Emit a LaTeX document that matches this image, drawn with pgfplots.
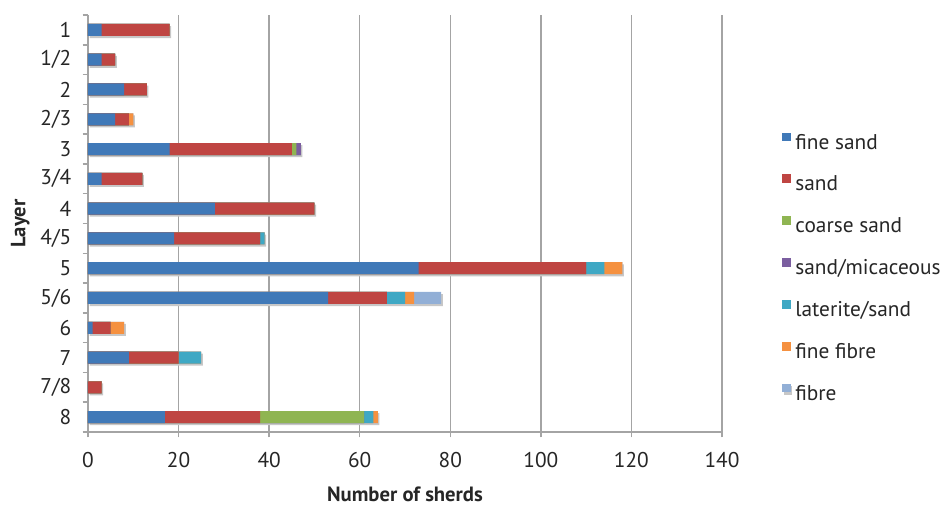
\documentclass[border=0pt]{standalone}
\usepackage{pgfplots}
\usepackage{pgfplotstable}
\pgfplotsset{compat=1.18}
\usepackage{fontspec}
\setmainfont{PT Sans}
\definecolor{cfine}{HTML}{4079B8}
\definecolor{csand}{HTML}{BF4542}
\definecolor{ccoarse}{HTML}{8FB552}
\definecolor{cmica}{HTML}{7B5EA0}
\definecolor{clat}{HTML}{3FA8C4}
\definecolor{cffib}{HTML}{F59140}
\definecolor{cfibre}{HTML}{92AFD6}
\definecolor{gridgray}{HTML}{A4A4A4}
\newcommand{\legsq}[1]{\fill[#1] (0pt,1pt) rectangle (6.5pt,7.5pt);}
% y: 0 = layer 8 (bottom) ... 13 = layer 1 (top); segment values per sherd type
\pgfplotstableread{
y fine sand coarse mica lat ffib fibre
0  17 21 23 0 2 1 0
1  0  3  0  0 0 0 0
2  9  11 0  0 5 0 0
3  1  4  0  0 0 3 0
4  53 13 0  0 4 2 6
5  73 37 0  0 4 4 0
6  19 19 0  0 1 0 0
7  28 22 0  0 0 0 0
8  3  9  0  0 0 0 0
9  18 27 1  1 0 0 0
10 6  3  0  0 0 1 0
11 8  5  0  0 0 0 0
12 3  3  0  0 0 0 0
13 3  15 0  0 0 0 0
}\datatable
\begin{document}
\begin{tikzpicture}
\begin{axis}[
  at={(0pt,0pt)}, anchor=south west,
  scale only axis, width=475.5pt, height=312.75pt,
  xbar, bar width=9pt, bar shift=0pt,
  xmin=0, xmax=140, xtick={0,20,...,140},
  ymin=-0.5, ymax=13.5,
  ytick={0,...,13},
  yticklabels={8,7/8,7,6,5/6,5,4/5,4,3/4,3,2/3,2,1/2,1},
  minor ytick={-0.5,0.5,...,13.5},
  axis x line*=bottom, axis y line*=left,
  axis line style={gridgray, line width=1.1pt, -},
  xmajorgrids, grid style={gridgray, line width=1.1pt},
  tick align=outside,
  major tick length=4pt,
  minor tick length=4pt,
  x tick style={gridgray, line width=1.1pt},
  y tick style={gridgray, line width=1.1pt},
  major y tick style={draw=none},
  tick label style={font=\fontsize{16}{19}\selectfont, text=black!85},
  /pgf/number format/assume math mode=true,
  xticklabel style={yshift=-8pt},
  yticklabel style={xshift=-5pt},
  xlabel={\textbf{Number of sherds}},
  ylabel={\textbf{Layer}},
  label style={font=\fontsize{15.5}{18}\selectfont, text=black!85},
  xlabel style={at={(axis description cs:0.5,0)}, anchor=center, yshift=-47pt},
  ylabel style={at={(axis description cs:-0.107,0.5)}, anchor=center},
  legend style={at={(rel axis cs:1.088,0.728)}, anchor=north west, draw=none, fill=none,
    font=\fontsize{16}{19}\selectfont, text=black!85, row sep=14.6pt, column sep=2.5pt,
    nodes={inner xsep=1pt}},
  legend cell align=left,
  reverse legend,
  every axis plot/.append style={draw=none},
]
% drawn back to front as cumulative lengths, so the stacked segments meet without seams
\addplot[fill=cfibre, preaction={fill=black!22, transform canvas={xshift=1.2pt, yshift=-1.6pt}},
  legend image code/.code={\legsq{cfibre}}]
  table[y=y, x expr=\thisrow{fine}+\thisrow{sand}+\thisrow{coarse}+\thisrow{mica}+\thisrow{lat}+\thisrow{ffib}+\thisrow{fibre}] {\datatable};
\addplot[fill=cffib, legend image code/.code={\legsq{cffib}}]
  table[y=y, x expr=\thisrow{fine}+\thisrow{sand}+\thisrow{coarse}+\thisrow{mica}+\thisrow{lat}+\thisrow{ffib}] {\datatable};
\addplot[fill=clat, legend image code/.code={\legsq{clat}}]
  table[y=y, x expr=\thisrow{fine}+\thisrow{sand}+\thisrow{coarse}+\thisrow{mica}+\thisrow{lat}] {\datatable};
\addplot[fill=cmica, legend image code/.code={\legsq{cmica}}]
  table[y=y, x expr=\thisrow{fine}+\thisrow{sand}+\thisrow{coarse}+\thisrow{mica}] {\datatable};
\addplot[fill=ccoarse, legend image code/.code={\legsq{ccoarse}}]
  table[y=y, x expr=\thisrow{fine}+\thisrow{sand}+\thisrow{coarse}] {\datatable};
\addplot[fill=csand, legend image code/.code={\legsq{csand}}]
  table[y=y, x expr=\thisrow{fine}+\thisrow{sand}] {\datatable};
\addplot[fill=cfine, legend image code/.code={\legsq{cfine}}]
  table[y=y, x=fine] {\datatable};
\legend{fibre, fine fibre, laterite/sand, sand/micaceous, coarse sand, sand, fine sand}
\end{axis}
\path[use as bounding box] (-66pt,-57pt) rectangle (646.5pt,324pt);
\end{tikzpicture}
\end{document}
